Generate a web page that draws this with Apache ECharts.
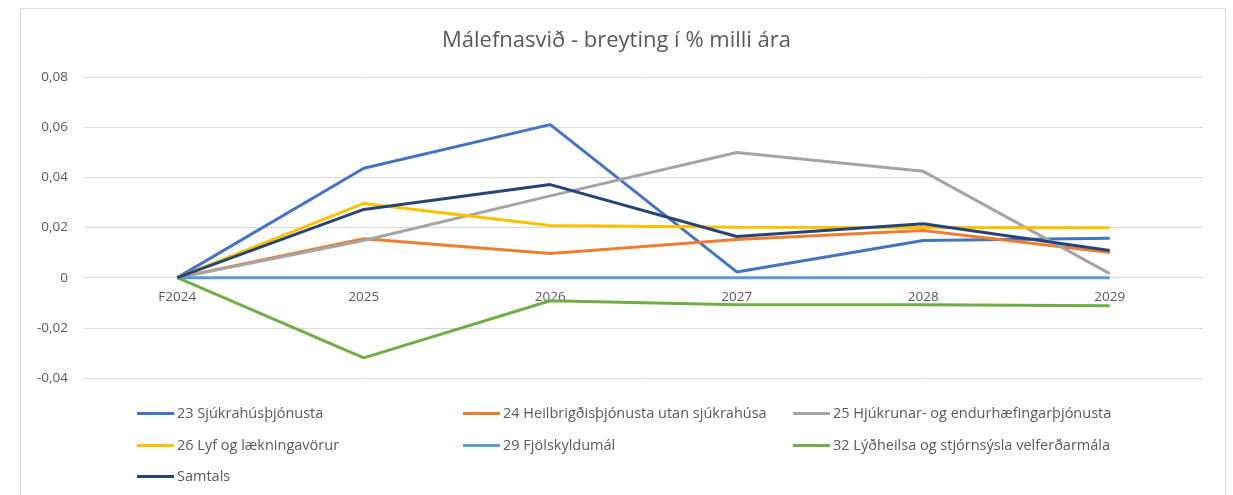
<!DOCTYPE html>
<html>
<head>
<meta charset="utf-8">
<script src="https://cdn.jsdelivr.net/npm/echarts@6/dist/echarts.min.js"></script>
<style>html,body{margin:0;padding:0;background:#fff;}#c{width:1233px;height:495px;}</style>
</head>
<body>
<div id="c"></div>
<script>
const categories = ['F2024', '2025', '2026', '2027', '2028', '2029'];
const yTicks = [-0.04, -0.02, 0, 0.02, 0.04, 0.06, 0.08];
const s23 = [0, 0.0436, 0.0610, 0.0023, 0.0148, 0.0157];
const s24 = [0, 0.0155, 0.0096, 0.0152, 0.0188, 0.0100];
const s25 = [0, 0.0148, 0.0326, 0.0499, 0.0424, 0.0016];
const s26 = [0, 0.0296, 0.0208, 0.0201, 0.0200, 0.0199];
const s29 = [0, 0, 0, 0, 0, 0];
const s32 = [0, -0.0320, -0.0092, -0.0108, -0.0108, -0.0112];
const sTot = [0, 0.0272, 0.0371, 0.0164, 0.0215, 0.0108];
const names = ['23 Sjúkrahúsþjónusta', '24 Heilbrigðisþjónusta utan sjúkrahúsa', '25 Hjúkrunar- og endurhæfingarþjónusta', '26 Lyf og lækningavörur', '29 Fjölskyldumál', '32 Lýðheilsa og stjórnsýsla velferðarmála', 'Samtals'];
const colors = ['#4472C4', '#ED7D31', '#A5A5A5', '#FFC000', '#5B9BD5', '#70AD47', '#264478'];
const seriesData = [s23, s24, s25, s26, s29, s32, sTot];

const font = '"Open Sans", "Noto Sans", sans-serif';
const legendPos = [[137, 406], [463, 406], [793, 406], [137, 438], [463, 438], [793, 438], [137, 469]];

const gridTop = 77, gridBottom = 117, H = 495;
const yMin = yTicks[0], yMax = yTicks[yTicks.length - 1];
// place the category axis where value 0 falls on the value scale
const zeroOffset = -((0 - yMin) / (yMax - yMin)) * (H - gridTop - gridBottom);

const chart = echarts.init(document.getElementById('c'), null, {renderer: 'canvas'});
chart.setOption({
  animation: false,
  backgroundColor: '#fff',
  title: {
    text: 'Málefnasvið - breyting í % milli ára',
    left: 'center', top: 25,
    textStyle: {fontFamily: font, fontSize: 22, fontWeight: 'normal', color: '#595959'}
  },
  graphic: [{
    type: 'rect', shape: {x: 20.5, y: 8.5, width: 1205, height: 500},
    style: {fill: 'none', stroke: '#d9d9d9', lineWidth: 1}, silent: true, z: -1
  }],
  legend: names.map((n, i) => ({
    data: [n], left: legendPos[i][0], top: legendPos[i][1], padding: 0,
    icon: 'rect', itemWidth: 37, itemHeight: 3, itemGap: 0,
    textStyle: {fontFamily: font, fontSize: 14.5, color: '#595959', padding: [0, 0, 0, -2]}
  })),
  grid: {left: 84, right: 30, top: gridTop, bottom: gridBottom},
  xAxis: {
    type: 'category', data: categories, boundaryGap: true,
    offset: zeroOffset,
    axisLine: {onZero: false, lineStyle: {color: '#d9d9d9', width: 1}},
    axisTick: {show: false},
    axisLabel: {fontFamily: font, fontSize: 13.5, color: '#595959', margin: 12}
  },
  yAxis: {
    type: 'value', min: yMin, max: yMax, interval: 0.02,
    axisLine: {show: false}, axisTick: {show: false},
    splitLine: {lineStyle: {color: '#d9d9d9', width: 1}},
    axisLabel: {
      fontFamily: font, fontSize: 13.5, color: '#595959', margin: 16,
      formatter: v => {
        const r = Math.round(v * 100) / 100;
        if (r === 0) return '0';
        return r.toFixed(2).replace('.', ',');
      }
    }
  },
  series: names.map((n, i) => ({
    name: n, type: 'line', data: seriesData[i],
    showSymbol: false, symbol: 'none',
    lineStyle: {color: colors[i], width: 3},
    itemStyle: {color: colors[i]}
  }))
});
</script>
</body>
</html>
